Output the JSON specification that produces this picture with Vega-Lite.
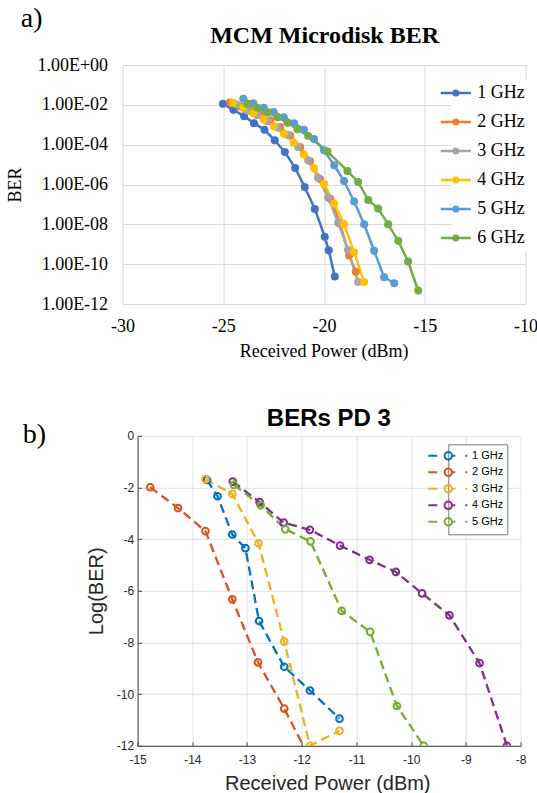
{
  "$schema": "https://vega.github.io/schema/vega-lite/v6.json",
  "background": "white",
  "padding": {"left": 5.6, "top": 4, "right": 0, "bottom": 0},
  "spacing": 44.8,
  "resolve": {"legend": {"color": "independent", "stroke": "independent"}},
  "config": {
    "view": {"stroke": null},
    "axis": {"labelFlush": false, "labelOverlap": false}
  },
  "datasets": {
    "top": [
      {"f": "1 GHz", "p": -25.02, "ber": 1.12e-2},
      {"f": "1 GHz", "p": -24.5, "ber": 5.6e-3},
      {"f": "1 GHz", "p": -23.97, "ber": 2.7e-3},
      {"f": "1 GHz", "p": -23.48, "ber": 1.2e-3},
      {"f": "1 GHz", "p": -22.96, "ber": 5.6e-4},
      {"f": "1 GHz", "p": -22.45, "ber": 1.66e-4},
      {"f": "1 GHz", "p": -21.95, "ber": 4.3e-5},
      {"f": "1 GHz", "p": -21.44, "ber": 6.8e-6},
      {"f": "1 GHz", "p": -20.96, "ber": 7.4e-7},
      {"f": "1 GHz", "p": -20.46, "ber": 5.9e-8},
      {"f": "1 GHz", "p": -19.97, "ber": 2.4e-9},
      {"f": "1 GHz", "p": -19.77, "ber": 5.0e-10},
      {"f": "1 GHz", "p": -19.47, "ber": 2.4e-11},
      {"f": "2 GHz", "p": -24.67, "ber": 1.3e-2},
      {"f": "2 GHz", "p": -24.17, "ber": 8.3e-3},
      {"f": "2 GHz", "p": -23.68, "ber": 5.2e-3},
      {"f": "2 GHz", "p": -23.18, "ber": 3.3e-3},
      {"f": "2 GHz", "p": -22.68, "ber": 1.66e-3},
      {"f": "2 GHz", "p": -22.19, "ber": 7.6e-4},
      {"f": "2 GHz", "p": -21.69, "ber": 3.0e-4},
      {"f": "2 GHz", "p": -21.19, "ber": 7.6e-5},
      {"f": "2 GHz", "p": -20.7, "ber": 1.5e-5},
      {"f": "2 GHz", "p": -20.2, "ber": 1.9e-6},
      {"f": "2 GHz", "p": -19.69, "ber": 1.9e-7},
      {"f": "2 GHz", "p": -19.21, "ber": 1.1e-8},
      {"f": "2 GHz", "p": -18.76, "ber": 2.7e-10},
      {"f": "2 GHz", "p": -18.43, "ber": 4.2e-11},
      {"f": "3 GHz", "p": -24.34, "ber": 1.05e-2},
      {"f": "3 GHz", "p": -23.81, "ber": 5.2e-3},
      {"f": "3 GHz", "p": -23.31, "ber": 3.0e-3},
      {"f": "3 GHz", "p": -22.81, "ber": 1.5e-3},
      {"f": "3 GHz", "p": -22.28, "ber": 7.1e-4},
      {"f": "3 GHz", "p": -21.79, "ber": 3.0e-4},
      {"f": "3 GHz", "p": -21.29, "ber": 7.6e-5},
      {"f": "3 GHz", "p": -20.79, "ber": 1.66e-5},
      {"f": "3 GHz", "p": -20.3, "ber": 2.2e-6},
      {"f": "3 GHz", "p": -19.8, "ber": 2.2e-7},
      {"f": "3 GHz", "p": -19.3, "ber": 1.2e-8},
      {"f": "3 GHz", "p": -18.81, "ber": 5.2e-10},
      {"f": "3 GHz", "p": -18.31, "ber": 1.26e-11},
      {"f": "4 GHz", "p": -24.52, "ber": 1.26e-2},
      {"f": "4 GHz", "p": -24.01, "ber": 7.1e-3},
      {"f": "4 GHz", "p": -23.51, "ber": 3.8e-3},
      {"f": "4 GHz", "p": -23.0, "ber": 1.86e-3},
      {"f": "4 GHz", "p": -22.5, "ber": 8.5e-4},
      {"f": "4 GHz", "p": -22.0, "ber": 3.5e-4},
      {"f": "4 GHz", "p": -21.51, "ber": 1.26e-4},
      {"f": "4 GHz", "p": -21.01, "ber": 3.2e-5},
      {"f": "4 GHz", "p": -20.5, "ber": 6.6e-6},
      {"f": "4 GHz", "p": -20.0, "ber": 1.05e-6},
      {"f": "4 GHz", "p": -19.5, "ber": 1.12e-7},
      {"f": "4 GHz", "p": -19.01, "ber": 1.05e-8},
      {"f": "4 GHz", "p": -18.51, "ber": 4.0e-10},
      {"f": "4 GHz", "p": -18.01, "ber": 1.26e-11},
      {"f": "5 GHz", "p": -24.01, "ber": 2.0e-2},
      {"f": "5 GHz", "p": -23.51, "ber": 1.2e-2},
      {"f": "5 GHz", "p": -23.0, "ber": 7.1e-3},
      {"f": "5 GHz", "p": -22.5, "ber": 4.3e-3},
      {"f": "5 GHz", "p": -22.0, "ber": 2.4e-3},
      {"f": "5 GHz", "p": -21.49, "ber": 1.2e-3},
      {"f": "5 GHz", "p": -21.0, "ber": 5.6e-4},
      {"f": "5 GHz", "p": -20.5, "ber": 1.9e-4},
      {"f": "5 GHz", "p": -20.0, "ber": 5.2e-5},
      {"f": "5 GHz", "p": -19.5, "ber": 9.3e-6},
      {"f": "5 GHz", "p": -19.01, "ber": 1.5e-6},
      {"f": "5 GHz", "p": -18.51, "ber": 1.4e-7},
      {"f": "5 GHz", "p": -18.01, "ber": 1.0e-8},
      {"f": "5 GHz", "p": -17.52, "ber": 4.7e-10},
      {"f": "5 GHz", "p": -17.02, "ber": 2.2e-11},
      {"f": "5 GHz", "p": -16.52, "ber": 1.1e-11},
      {"f": "6 GHz", "p": -23.81, "ber": 1.1e-2},
      {"f": "6 GHz", "p": -23.31, "ber": 7.1e-3},
      {"f": "6 GHz", "p": -22.81, "ber": 4.3e-3},
      {"f": "6 GHz", "p": -22.32, "ber": 2.4e-3},
      {"f": "6 GHz", "p": -21.82, "ber": 1.26e-3},
      {"f": "6 GHz", "p": -21.32, "ber": 5.9e-4},
      {"f": "6 GHz", "p": -20.79, "ber": 2.7e-4},
      {"f": "6 GHz", "p": -19.83, "ber": 4.5e-5},
      {"f": "6 GHz", "p": -18.84, "ber": 4.8e-6},
      {"f": "6 GHz", "p": -18.31, "ber": 1.35e-6},
      {"f": "6 GHz", "p": -17.81, "ber": 1.66e-7},
      {"f": "6 GHz", "p": -17.32, "ber": 6.3e-8},
      {"f": "6 GHz", "p": -16.82, "ber": 1.0e-8},
      {"f": "6 GHz", "p": -16.32, "ber": 1.5e-9},
      {"f": "6 GHz", "p": -15.83, "ber": 1.35e-10},
      {"f": "6 GHz", "p": -15.33, "ber": 4.7e-12}
    ],
    "bottom": [
      {"f": "1 GHz", "p": -13.73, "lber": -1.71},
      {"f": "1 GHz", "p": -13.54, "lber": -2.34},
      {"f": "1 GHz", "p": -13.27, "lber": -3.82},
      {"f": "1 GHz", "p": -13.03, "lber": -4.35},
      {"f": "1 GHz", "p": -12.78, "lber": -7.17},
      {"f": "1 GHz", "p": -12.32, "lber": -8.94},
      {"f": "1 GHz", "p": -11.85, "lber": -9.86},
      {"f": "1 GHz", "p": -11.31, "lber": -10.95},
      {"f": "2 GHz", "p": -14.77, "lber": -1.99},
      {"f": "2 GHz", "p": -14.26, "lber": -2.8},
      {"f": "2 GHz", "p": -13.76, "lber": -3.69},
      {"f": "2 GHz", "p": -13.27, "lber": -6.33},
      {"f": "2 GHz", "p": -12.8, "lber": -8.77},
      {"f": "2 GHz", "p": -12.32, "lber": -10.56},
      {"f": "2 GHz", "p": -11.85, "lber": -12.5},
      {"f": "3 GHz", "p": -13.76, "lber": -1.68},
      {"f": "3 GHz", "p": -13.27, "lber": -2.25},
      {"f": "3 GHz", "p": -12.79, "lber": -4.16},
      {"f": "3 GHz", "p": -12.32, "lber": -7.97},
      {"f": "3 GHz", "p": -11.85, "lber": -12.0},
      {"f": "3 GHz", "p": -11.31, "lber": -11.42},
      {"f": "4 GHz", "p": -13.26, "lber": -1.77},
      {"f": "4 GHz", "p": -12.77, "lber": -2.57},
      {"f": "4 GHz", "p": -12.33, "lber": -3.36},
      {"f": "4 GHz", "p": -11.85, "lber": -3.64},
      {"f": "4 GHz", "p": -11.3, "lber": -4.25},
      {"f": "4 GHz", "p": -10.76, "lber": -4.8},
      {"f": "4 GHz", "p": -10.28, "lber": -5.27},
      {"f": "4 GHz", "p": -9.8, "lber": -6.1},
      {"f": "4 GHz", "p": -9.3, "lber": -6.95},
      {"f": "4 GHz", "p": -8.75, "lber": -8.8},
      {"f": "4 GHz", "p": -8.25, "lber": -12.0},
      {"f": "5 GHz", "p": -13.24, "lber": -1.9},
      {"f": "5 GHz", "p": -12.75, "lber": -2.69},
      {"f": "5 GHz", "p": -12.3, "lber": -3.62},
      {"f": "5 GHz", "p": -11.84, "lber": -4.09},
      {"f": "5 GHz", "p": -11.27, "lber": -6.78},
      {"f": "5 GHz", "p": -10.75, "lber": -7.59},
      {"f": "5 GHz", "p": -10.26, "lber": -10.46},
      {"f": "5 GHz", "p": -9.77, "lber": -12.0}
    ]
  },
  "vconcat": [
    {
      "width": 403,
      "height": 239,
      "data": {"name": "top"},
      "layer": [
        {
          "mark": {"type": "line", "strokeWidth": 2.5},
          "encoding": {
            "x": {
              "field": "p", "type": "quantitative",
              "scale": {"domain": [-30, -10], "nice": false, "zero": false},
              "axis": {
                "orient": "bottom", "values": [-30, -25, -20, -15, -10],
                "labelExpr": "'' + datum.value",
                "grid": true, "gridColor": "#D9D9D9", "domainColor": "#D9D9D9", "ticks": false,
                "labelFont": "Liberation Serif", "labelFontSize": 18, "labelColor": "#000", "labelPadding": 13.5,
                "title": "Received Power (dBm)", "titleFont": "Liberation Serif", "titleFontSize": 18,
                "titleFontWeight": "normal", "titleColor": "#000",
                "titleX": 201, "titleY": 52.7, "titleAlign": "center", "titleBaseline": "alphabetic"
              }
            },
            "y": {
              "field": "ber", "type": "quantitative",
              "scale": {"type": "log", "domain": [1e-12, 1], "nice": false},
              "axis": {
                "orient": "left", "values": [1e-12, 1e-10, 1e-8, 1e-6, 1e-4, 1e-2, 1],
                "labelExpr": "'1.00E' + (datum.value >= 1 ? '+' : '-') + (abs(round(log(datum.value)/LN10)) < 10 ? '0' : '') + abs(round(log(datum.value)/LN10))",
                "grid": true, "gridColor": "#D9D9D9", "domain": false, "ticks": false,
                "labelFont": "Liberation Serif", "labelFontSize": 18, "labelColor": "#000", "labelPadding": 15,
                "title": "BER", "titleFont": "Liberation Serif", "titleFontSize": 18,
                "titleFontWeight": "normal", "titleColor": "#000",
                "titleX": -102.3, "titleY": 119.5, "titleAngle": 270, "titleAlign": "center", "titleBaseline": "alphabetic"
              }
            },
            "color": {
              "field": "f", "type": "nominal",
              "scale": {
                "domain": ["1 GHz", "2 GHz", "3 GHz", "4 GHz", "5 GHz", "6 GHz"],
                "range": ["#4472C4", "#ED7D31", "#A5A5A5", "#FFC000", "#5B9BD5", "#70AD47"]
              },
              "legend": {
                "orient": "none", "legendX": 328.7, "legendY": 15, "title": null,
                "labelFont": "Liberation Serif", "labelFontSize": 18, "labelColor": "#000",
                "symbolSize": 100, "symbolStrokeWidth": 2.5, "rowPadding": 11, "labelOffset": 4,
                "padding": 4, "fillColor": "white",
                "encode": {
                  "symbols": {
                    "update": {
                      "shape": {"value": "M-4.7,0H1.3M-1.25,0A0.45,0.45,0,1,1,-2.15,0A0.45,0.45,0,1,1,-1.25,0Z"},
                      "fill": {"scale": "color", "field": "value"},
                      "stroke": {"scale": "color", "field": "value"},
                      "strokeWidth": {"value": 2.5},
                      "opacity": {"value": 1}
                    }
                  }
                }
              }
            }
          }
        },
        {
          "mark": {"type": "point", "filled": true, "size": 65, "opacity": 1},
          "encoding": {
            "x": {
              "field": "p", "type": "quantitative",
              "scale": {"domain": [-30, -10], "nice": false, "zero": false},
              "axis": {
                "orient": "top", "labels": false, "ticks": false, "domain": false, "grid": false,
                "title": "MCM Microdisk BER", "titleFont": "Liberation Serif", "titleFontSize": 24,
                "titleFontWeight": "bold", "titleColor": "#000",
                "titleX": 201.5, "titleY": -22.5, "titleAlign": "center", "titleBaseline": "alphabetic"
              }
            },
            "y": {
              "field": "ber", "type": "quantitative",
              "scale": {"type": "log", "domain": [1e-12, 1], "nice": false},
              "axis": {
                "orient": "right", "labels": false, "ticks": false, "domain": false, "grid": false,
                "title": "a)", "titleFont": "Liberation Serif", "titleFontSize": 28,
                "titleFontWeight": "normal", "titleColor": "#000", "titleAngle": 0,
                "titleX": -505.3, "titleY": -39, "titleAlign": "left", "titleBaseline": "alphabetic"
              }
            },
            "color": {"field": "f", "type": "nominal"}
          }
        }
      ]
    },
    {
      "width": 398,
      "height": 310,
      "data": {"name": "bottom"},
      "layer": [
        {
          "mark": {"type": "line", "strokeWidth": 2.3, "strokeDash": [9, 5], "clip": true},
          "encoding": {
            "x": {
              "field": "p", "type": "quantitative",
              "scale": {"domain": [-15, -8], "range": [15, 398], "nice": false, "zero": false},
              "axis": {
                "orient": "bottom", "values": [-15, -14, -13, -12, -11, -10, -9, -8],
                "labelExpr": "'' + datum.value",
                "grid": true, "gridColor": "#E0E0E0", "domainColor": "#404040", "tickColor": "#404040",
                "tickSize": -4, "labelPadding": 13,
                "labelFont": "Liberation Sans", "labelFontSize": 12, "labelColor": "#262626",
                "title": "Received Power (dBm)", "titleFont": "Liberation Sans", "titleFontSize": 20,
                "titleFontWeight": "normal", "titleColor": "#262626",
                "titleX": 204.7, "titleY": 43.5, "titleAlign": "center", "titleBaseline": "alphabetic"
              }
            },
            "y": {
              "field": "lber", "type": "quantitative",
              "scale": {"domain": [-12, 0], "nice": false, "zero": false},
              "axis": {
                "orient": "left", "offset": -15, "values": [-12, -10, -8, -6, -4, -2, 0],
                "labelExpr": "'' + datum.value",
                "grid": true, "gridColor": "#E0E0E0", "domainColor": "#404040", "tickColor": "#404040",
                "tickSize": -4, "labelPadding": 8,
                "labelFont": "Liberation Sans", "labelFontSize": 12, "labelColor": "#262626",
                "title": "Log(BER)", "titleFont": "Liberation Sans", "titleFontSize": 20,
                "titleFontWeight": "normal", "titleColor": "#262626",
                "titleX": -35.5, "titleY": 155, "titleAngle": 270, "titleAlign": "center", "titleBaseline": "alphabetic"
              }
            },
            "stroke": {
              "field": "f", "type": "nominal",
              "scale": {
                "domain": ["1 GHz", "2 GHz", "3 GHz", "4 GHz", "5 GHz"],
                "range": ["#0072BD", "#D95319", "#EDB120", "#7E2F8E", "#77AC30"]
              },
              "legend": {
                "orient": "none", "legendX": 325.7, "legendY": 8.5, "title": null,
                "labelFont": "Liberation Sans", "labelFontSize": 11, "labelColor": "#000",
                "symbolSize": 169, "symbolStrokeWidth": 2, "rowPadding": -0.5, "labelOffset": 4.7,
                "padding": 4, "fillColor": "white", "strokeColor": "#777777",
                "encode": {
                  "symbols": {
                    "update": {
                      "shape": {"value": "M-4.85,0H-3.46M-1.2,0A0.57,0.57,0,1,1,-2.34,0A0.57,0.57,0,1,1,-1.2,0M-1.2,0H-0.69M0.85,0H1.15"},
                      "stroke": {"scale": "stroke", "field": "value"},
                      "fill": {"value": "transparent"},
                      "strokeWidth": {"value": 2},
                      "strokeDash": {"value": []},
                      "opacity": {"value": 1}
                    }
                  }
                }
              }
            }
          }
        },
        {
          "mark": {"type": "point", "filled": false, "size": 45, "strokeWidth": 2, "opacity": 1, "clip": true},
          "encoding": {
            "x": {
              "field": "p", "type": "quantitative",
              "scale": {"domain": [-15, -8], "range": [15, 398], "nice": false, "zero": false},
              "axis": {
                "orient": "top", "labels": false, "ticks": false, "domain": false, "grid": false,
                "title": "BERs PD 3", "titleFont": "Liberation Sans", "titleFontSize": 24,
                "titleFontWeight": "bold", "titleColor": "#000",
                "titleX": 205.7, "titleY": -10.2, "titleAlign": "center", "titleBaseline": "alphabetic"
              }
            },
            "y": {
              "field": "lber", "type": "quantitative",
              "scale": {"domain": [-12, 0], "nice": false, "zero": false},
              "axis": {
                "orient": "right", "labels": false, "ticks": false, "domain": false, "grid": false,
                "title": "b)", "titleFont": "Liberation Serif", "titleFontSize": 28,
                "titleFontWeight": "normal", "titleColor": "#000", "titleAngle": 0,
                "titleX": -498.3, "titleY": 7.2, "titleAlign": "left", "titleBaseline": "alphabetic"
              }
            },
            "stroke": {"field": "f", "type": "nominal"}
          }
        }
      ]
    }
  ]
}
